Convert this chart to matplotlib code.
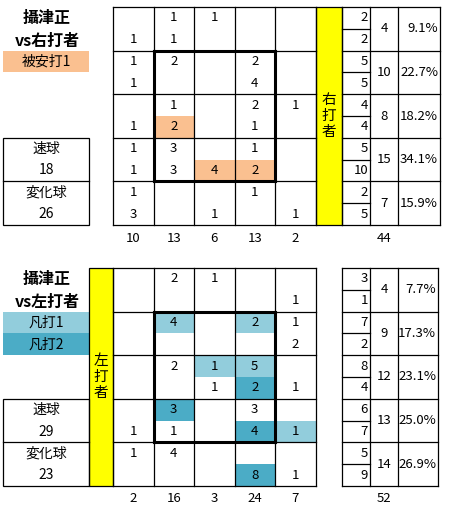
import matplotlib.pyplot as plt
from matplotlib.patches import Rectangle

plt.rcParams['font.family'] = ['Noto Sans CJK JP', 'DejaVu Sans']

pitcher = '攝津正'

# right-handed batters: 5 columns x 10 half rows (0 = blank)
right_counts = [
    [0, 1, 1, 0, 0],
    [1, 1, 0, 0, 0],
    [1, 2, 0, 2, 0],
    [1, 0, 0, 4, 0],
    [0, 1, 0, 2, 1],
    [1, 2, 0, 1, 0],
    [1, 3, 0, 1, 0],
    [1, 3, 4, 2, 0],
    [1, 0, 0, 1, 0],
    [3, 0, 1, 0, 1],
]
right_marks = [
    [0, 0, 0, 0, 0],
    [0, 0, 0, 0, 0],
    [0, 0, 0, 0, 0],
    [0, 0, 0, 0, 0],
    [0, 0, 0, 0, 0],
    [0, 1, 0, 0, 0],
    [0, 0, 0, 0, 0],
    [0, 0, 1, 1, 0],
    [0, 0, 0, 0, 0],
    [0, 0, 0, 0, 0],
]
right_half_totals = [2, 2, 5, 5, 4, 4, 5, 10, 2, 5]
right_row_totals = [4, 10, 8, 15, 7]
right_row_pct = ['9.1%', '22.7%', '18.2%', '34.1%', '15.9%']
right_col_totals = [10, 13, 6, 13, 2]
right_total = 44
right_pitch = ['速球', '18', '変化球', '26']
right_legend = ['被安打1']

# left-handed batters
left_counts = [
    [0, 2, 1, 0, 0],
    [0, 0, 0, 0, 1],
    [0, 4, 0, 2, 1],
    [0, 0, 0, 0, 2],
    [0, 2, 1, 5, 0],
    [0, 0, 1, 2, 1],
    [0, 3, 0, 3, 0],
    [1, 1, 0, 4, 1],
    [1, 4, 0, 0, 0],
    [0, 0, 0, 8, 1],
]
left_marks = [
    [0, 0, 0, 0, 0],
    [0, 0, 0, 0, 0],
    [0, 1, 0, 1, 0],
    [0, 0, 0, 0, 0],
    [0, 0, 1, 1, 0],
    [0, 0, 0, 2, 0],
    [0, 2, 0, 0, 0],
    [0, 0, 0, 2, 1],
    [0, 0, 0, 0, 0],
    [0, 0, 0, 2, 0],
]
left_half_totals = [3, 1, 7, 2, 8, 4, 6, 7, 5, 9]
left_row_totals = [4, 9, 12, 13, 14]
left_row_pct = ['7.7%', '17.3%', '23.1%', '25.0%', '26.9%']
left_col_totals = [2, 16, 3, 24, 7]
left_total = 52
left_pitch = ['速球', '29', '変化球', '23']
left_legend = ['凡打1', '凡打2']

ORANGE = '#FAC090'
LIGHT = '#92CDDC'
DARK = '#4BACC6'
YELLOW = '#FFFF00'

fig = plt.figure(figsize=(4.5, 5.11), dpi=100)
ax = fig.add_axes([0, 0, 1, 1])
ax.set_xlim(0, 450)
ax.set_ylim(511, 0)
ax.axis('off')

col_x = [113 + i * 40.5 for i in range(6)]
RH = 43.6
HH = RH / 2
THIN = 0.9
THICK = 2.2
FS = 9.5


def line(x0, y0, x1, y1, lw=THIN):
    ax.plot([x0, x1], [y0, y1], color='black', lw=lw, solid_capstyle='projecting', zorder=3)


def draw_chart(top, counts, marks, mark_colors, half_totals, row_totals, row_pct,
               col_totals, total, pitch, legend, legend_colors, side, band_x, tbl_right):
    bottom = top + 5 * RH
    # highlighted cells and counts
    for r in range(10):
        for c in range(5):
            if marks[r][c]:
                ax.add_patch(Rectangle((col_x[c], top + r * HH), col_x[c + 1] - col_x[c], HH,
                                       color=mark_colors[marks[r][c] - 1], lw=0, zorder=1))
            if counts[r][c]:
                ax.text((col_x[c] + col_x[c + 1]) / 2, top + (r + 0.5) * HH, str(counts[r][c]),
                        ha='center', va='center', fontsize=FS, zorder=4)
    # grid
    for x in col_x:
        line(x, top, x, bottom)
    for r in range(6):
        line(col_x[0], top + r * RH, col_x[-1], top + r * RH)
    # strike zone
    zx0, zx1 = col_x[1], col_x[4]
    zy0, zy1 = top + RH, top + 4 * RH
    line(zx0, zy0, zx1, zy0, THICK)
    line(zx0, zy1, zx1, zy1, THICK)
    line(zx0, zy0, zx0, zy1, THICK)
    line(zx1, zy0, zx1, zy1, THICK)
    # yellow band
    ax.add_patch(Rectangle((band_x[0], top), band_x[1] - band_x[0], 5 * RH,
                           facecolor=YELLOW, edgecolor='black', lw=THIN, zorder=2))
    bx = (band_x[0] + band_x[1]) / 2
    for i, ch in enumerate(side):
        ax.text(bx, top + 2.5 * RH + (i - 1) * 16, ch, ha='center', va='center',
                fontsize=10.5, zorder=4)
    # totals table on the right
    tx = [342, 370, 398, tbl_right]
    for x in tx:
        line(x, top, x, bottom)
    for r in range(6):
        line(tx[0], top + r * RH, tx[-1], top + r * RH)
    for r in range(5):
        line(tx[0], top + r * RH + HH, tx[1], top + r * RH + HH)
        ax.text((tx[1] + tx[2]) / 2, top + (r + 0.5) * RH, str(row_totals[r]),
                ha='center', va='center', fontsize=FS)
        ax.text(tx[3] - 2, top + (r + 0.5) * RH, row_pct[r],
                ha='right', va='center', fontsize=FS)
    for r in range(10):
        ax.text(tx[1] - 2, top + (r + 0.5) * HH, str(half_totals[r]),
                ha='right', va='center', fontsize=FS)
    # column totals
    for c in range(5):
        ax.text((col_x[c] + col_x[c + 1]) / 2, bottom + 13, str(col_totals[c]),
                ha='center', va='center', fontsize=FS)
    ax.text((tx[1] + tx[2]) / 2, bottom + 13, str(total), ha='center', va='center', fontsize=FS)
    # title
    ax.text(47, top + 11, pitcher, ha='center', va='center', fontsize=11.5, fontweight='bold')
    ax.text(47, top + 34, 'vs' + side, ha='center', va='center',
            fontsize=11.5, fontweight='bold')
    # legend boxes
    for i, (lab, col) in enumerate(zip(legend, legend_colors)):
        y0 = top + RH + i * HH
        ax.add_patch(Rectangle((3, y0), 86, HH, color=col, lw=0, zorder=1))
        ax.text(46, y0 + HH / 2, lab, ha='center', va='center', fontsize=10, zorder=4)
    # pitch type table
    py0 = top + 3 * RH
    ax.add_patch(Rectangle((3, py0), 86, 2 * RH, facecolor='none', edgecolor='black',
                           lw=THIN, zorder=3))
    line(3, py0 + RH, 89, py0 + RH)
    for i, t in enumerate(pitch):
        ax.text(46, py0 + (i + 0.5) * HH, t, ha='center', va='center', fontsize=10)


draw_chart(7, right_counts, right_marks, [ORANGE], right_half_totals, right_row_totals,
           right_row_pct, right_col_totals, right_total, right_pitch, right_legend, [ORANGE],
           '右打者', (315.5, 342), 440)
draw_chart(268, left_counts, left_marks, [LIGHT, DARK], left_half_totals, left_row_totals,
           left_row_pct, left_col_totals, left_total, left_pitch, left_legend, [LIGHT, DARK],
           '左打者', (89, 113), 438)

fig.savefig('out.png', dpi=100, facecolor='white')
